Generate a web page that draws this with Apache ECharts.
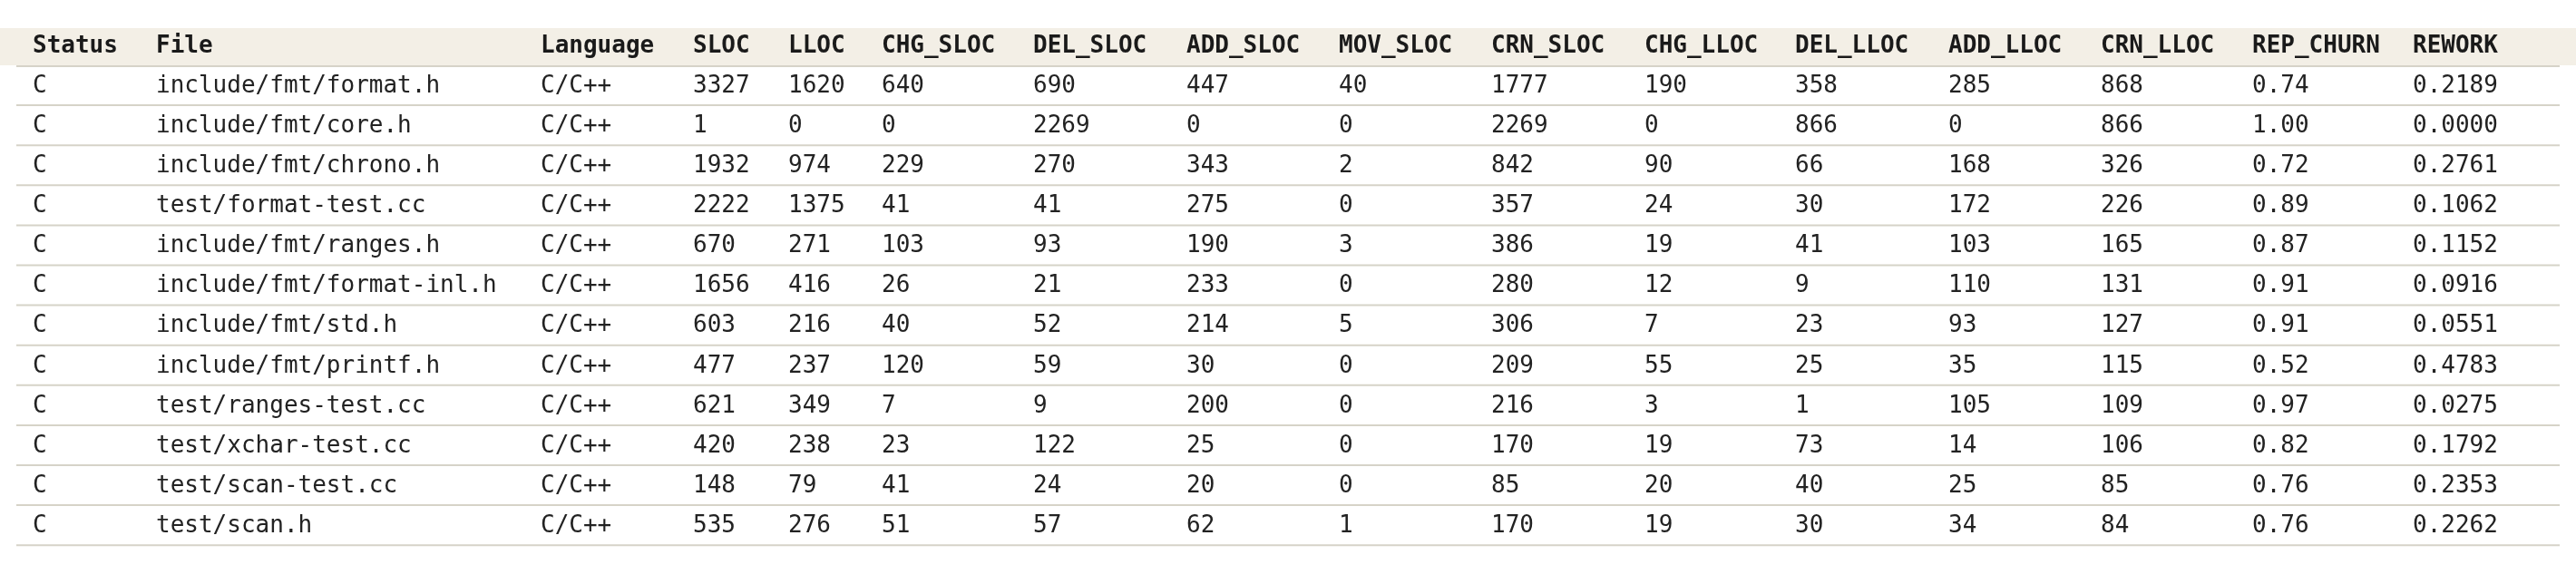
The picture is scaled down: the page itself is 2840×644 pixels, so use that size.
<!DOCTYPE html>
<html><head><meta charset="utf-8">
<script src="https://cdn.jsdelivr.net/npm/echarts@6/dist/echarts.min.js"></script>
<style>html,body{margin:0;padding:0;background:#fff}#c{width:2840px;height:644px}</style>
</head><body><div id="c"></div>
<script>
const headers = ["Status","File","Language","SLOC","LLOC","CHG_SLOC","DEL_SLOC","ADD_SLOC","MOV_SLOC","CRN_SLOC","CHG_LLOC","DEL_LLOC","ADD_LLOC","CRN_LLOC","REP_CHURN","REWORK"];
const statuses = ["C","C","C","C","C","C","C","C","C","C","C","C"];
const files = ["include/fmt/format.h","include/fmt/core.h","include/fmt/chrono.h","test/format-test.cc","include/fmt/ranges.h","include/fmt/format-inl.h","include/fmt/std.h","include/fmt/printf.h","test/ranges-test.cc","test/xchar-test.cc","test/scan-test.cc","test/scan.h"];
const languages = ["C/C++","C/C++","C/C++","C/C++","C/C++","C/C++","C/C++","C/C++","C/C++","C/C++","C/C++","C/C++"];
const sloc = [3327,1,1932,2222,670,1656,603,477,621,420,148,535];
const lloc = [1620,0,974,1375,271,416,216,237,349,238,79,276];
const chgSloc = [640,0,229,41,103,26,40,120,7,23,41,51];
const delSloc = [690,2269,270,41,93,21,52,59,9,122,24,57];
const addSloc = [447,0,343,275,190,233,214,30,200,25,20,62];
const movSloc = [40,0,2,0,3,0,5,0,0,0,0,1];
const crnSloc = [1777,2269,842,357,386,280,306,209,216,170,85,170];
const chgLloc = [190,0,90,24,19,12,7,55,3,19,20,19];
const delLloc = [358,866,66,30,41,9,23,25,1,73,40,30];
const addLloc = [285,0,168,172,103,110,93,35,105,14,25,34];
const crnLloc = [868,866,326,226,165,131,127,115,109,106,85,84];
const repChurn = ["0.74","1.00","0.72","0.89","0.87","0.91","0.91","0.52","0.97","0.82","0.76","0.76"];
const rework = ["0.2189","0.0000","0.2761","0.1062","0.1152","0.0916","0.0551","0.4783","0.0275","0.1792","0.2353","0.2262"];

const columns = [statuses,files,languages,sloc,lloc,chgSloc,delSloc,addSloc,movSloc,crnSloc,chgLloc,delLloc,addLloc,crnLloc,repChurn,rework];
const colX = [36,172,596,764,869,972,1139,1308,1476,1644,1813,1979,2148,2316,2483,2660];
const font = '"DejaVu Sans Mono", monospace';
const headTop = 31, headBottom = 72, rowH = 44.1;
const els = [];
els.push({type:'rect',shape:{x:0,y:headTop,width:2840,height:headBottom-headTop},style:{fill:'#f3efe6'}});
els.push({type:'rect',shape:{x:18,y:headBottom,width:2804,height:2},style:{fill:'#d6d3c8'}});
headers.forEach((h,i)=>els.push({type:'text',x:colX[i],y:(headTop+headBottom)/2,style:{text:h,font:'bold 26px '+font,fill:'#1a1a1a',verticalAlign:'middle'}}));
for(let r=0;r<files.length;r++){
  const top = headBottom + r*rowH;
  columns.forEach((col,i)=>els.push({type:'text',x:colX[i],y:top+rowH/2+1,style:{text:String(col[r]),font:'26px '+font,fill:'#222',verticalAlign:'middle'}}));
  els.push({type:'rect',shape:{x:18,y:top+rowH-1,width:2804,height:2},style:{fill:'#d6d3c8'}});
}
const chart = echarts.init(document.getElementById('c'));
chart.setOption({animation:false,graphic:{elements:els}});
</script></body></html>
